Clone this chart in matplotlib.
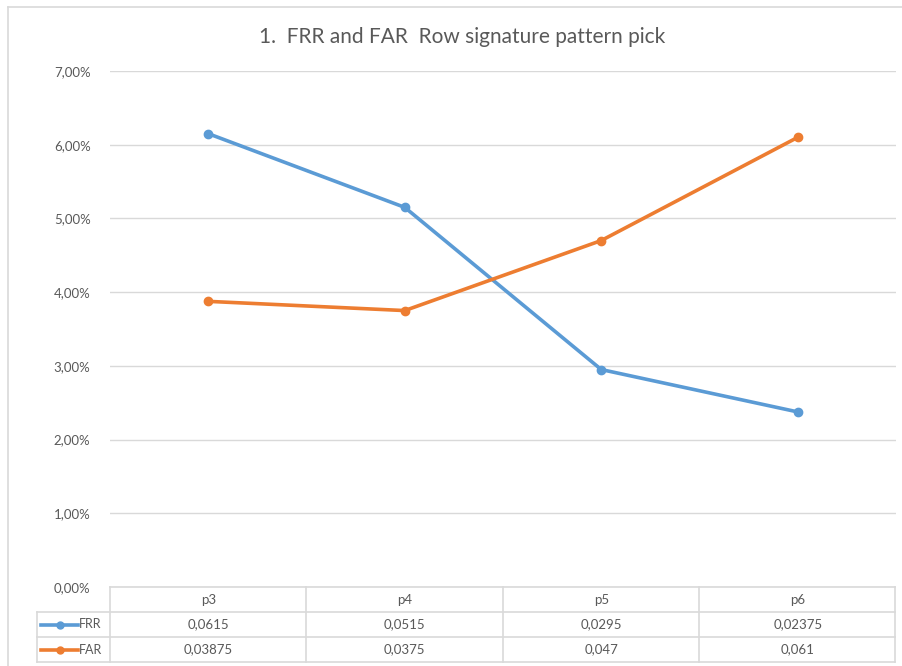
import matplotlib
matplotlib.use("Agg")
import matplotlib.pyplot as plt
from matplotlib.lines import Line2D
from matplotlib.transforms import blended_transform_factory
from matplotlib.ticker import FuncFormatter

categories = ["p3", "p4", "p5", "p6"]
frr = [0.0615, 0.0515, 0.0295, 0.02375]
far = [0.03875, 0.0375, 0.047, 0.061]
frr_labels = ["0,0615", "0,0515", "0,0295", "0,02375"]
far_labels = ["0,03875", "0,0375", "0,047", "0,061"]
yticks = [0, 0.01, 0.02, 0.03, 0.04, 0.05, 0.06, 0.07]

plt.rcParams['font.family'] = ['Lato', 'DejaVu Sans']
W, H = 902, 666
fig = plt.figure(figsize=(W/100, H/100), dpi=100)
txt = '#595959'
grid = '#D9D9D9'
blue = '#5B9BD5'
orange = '#ED7D31'

def fx(px): return px / W
def fy(py): return 1 - py / H

left, right, top, bottom = 110, 896, 71, 587
ax = fig.add_axes([fx(left), fy(bottom), fx(right) - fx(left), fy(top) - fy(bottom)])
x = list(range(len(categories)))
ax.plot(x, frr, color=blue, lw=2.6, marker='o', ms=6, label='FRR', solid_capstyle='round')
ax.plot(x, far, color=orange, lw=2.6, marker='o', ms=6, label='FAR', solid_capstyle='round')
ax.set_xlim(-0.5, len(categories) - 0.5)
ax.set_ylim(0, 0.07)
ax.set_yticks(yticks)
ax.yaxis.set_major_formatter(FuncFormatter(lambda v, p: f"{v*100:.2f}%".replace('.', ',')))
ax.tick_params(axis='y', length=0, labelsize=9.5, labelcolor=txt, pad=14)
ax.set_xticks([])
ax.grid(axis='y', color=grid, lw=1)
ax.set_axisbelow(True)
for s in ax.spines.values():
    s.set_visible(False)

fig.text(fx(462), fy(37), "1.  FRR and FAR  Row signature pattern pick", ha='center', va='center',
         fontsize=15, color=txt)

# outer chart border (top and left visible)
fig.add_artist(Line2D([fx(8), 1], [fy(7)] * 2, color=grid, lw=1.2))
fig.add_artist(Line2D([fx(8)] * 2, [0, fy(7)], color=grid, lw=1.2))

# data table
tr = blended_transform_factory(ax.transData, fig.transFigure)
rows_y = [587, 612, 637, 662]
tl, tr_px = 110, 895
fig.add_artist(Line2D([fx(tl), fx(tr_px)], [fy(587)] * 2, color=grid, lw=1.2))
for yy in rows_y[1:]:
    fig.add_artist(Line2D([fx(37), fx(tr_px)], [fy(yy)] * 2, color=grid, lw=1.2))
for i in range(len(categories) + 1):
    xp = tl + (tr_px - tl) * i / len(categories)
    fig.add_artist(Line2D([fx(xp)] * 2, [fy(587), fy(662)], color=grid, lw=1.2))
fig.add_artist(Line2D([fx(37)] * 2, [fy(612), fy(662)], color=grid, lw=1.2))

for i, c in enumerate(categories):
    fig.text(i, fy(599.5), c, transform=tr, ha='center', va='center', fontsize=9.5, color=txt)
    fig.text(i, fy(624.5), frr_labels[i], transform=tr, ha='center', va='center', fontsize=9.5, color=txt)
    fig.text(i, fy(649.5), far_labels[i], transform=tr, ha='center', va='center', fontsize=9.5, color=txt)

for name, col, yy in [("FRR", blue, 624.5), ("FAR", orange, 649.5)]:
    fig.add_artist(Line2D([fx(41), fx(78)], [fy(yy)] * 2, color=col, lw=2.6))
    fig.add_artist(Line2D([fx(59.5)], [fy(yy)], color=col, marker='o', ms=5))
    fig.text(fx(79), fy(yy), name, ha='left', va='center', fontsize=9, color=txt)

fig.savefig("out.png", dpi=100)
